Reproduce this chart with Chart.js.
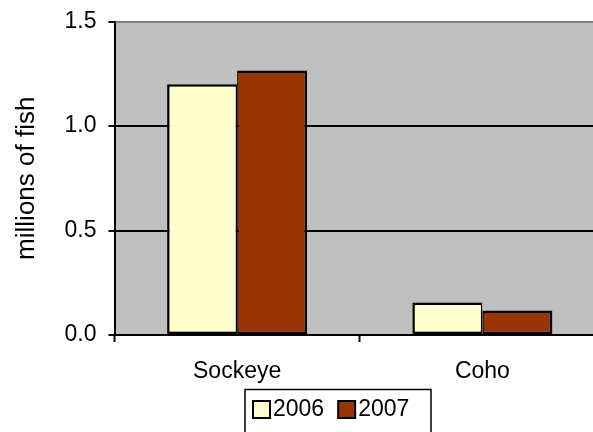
<!DOCTYPE html>
<html>
<head>
<meta charset="utf-8">
<script src="https://cdn.jsdelivr.net/npm/chart.js@4"></script>
<style>
  html, body { margin: 0; padding: 0; background: #fff; overflow: hidden; }
  #wrap { position: relative; width: 615px; height: 445px; }
</style>
</head>
<body>
<div id="wrap"><canvas id="fish-chart"></canvas></div>
<script>
// values, millions of fish
var species = ['Sockeye', 'Coho'];
var years = ['2006', '2007'];
var fish2006 = [1.20, 0.156];
var fish2007 = [1.265, 0.117];
var yTicks = [0, 0.5, 1.0, 1.5];
var yearColors = ['#FFFFCC', '#993300'];

Chart.defaults.font.family = '"Liberation Sans", Arial, sans-serif';
Chart.defaults.font.size = 23;
Chart.defaults.color = '#000';

// gray plot area like the old excel charts
var plotBackground = {
  id: 'plotBackground',
  beforeDraw: function (chart) {
    var a = chart.chartArea, ctx = chart.ctx;
    ctx.save();
    ctx.fillStyle = '#C0C0C0';
    ctx.fillRect(a.left, a.top, a.right - a.left, a.bottom - a.top);
    ctx.restore();
  }
};

// boxed legend with the swatch right next to the text
var boxLegend = {
  id: 'boxLegend',
  afterDraw: function (chart) {
    var ctx = chart.ctx;
    ctx.save();
    ctx.strokeStyle = '#000';
    ctx.lineWidth = 1.5;
    ctx.strokeRect(245, 389.5, 186, 60);
    ctx.font = '23px "Liberation Sans", Arial, sans-serif';
    ctx.textBaseline = 'middle';
    var x = 253;
    chart.data.datasets.forEach(function (ds) {
      ctx.fillStyle = ds.backgroundColor;
      ctx.fillRect(x, 401, 17, 17);
      ctx.lineWidth = 2;
      ctx.strokeRect(x, 401, 17, 17);
      ctx.fillStyle = '#000';
      ctx.fillText(ds.label, x + 20, 410);
      x += 20 + ctx.measureText(ds.label).width + 14;
    });
    ctx.restore();
  }
};

var fishChart = new Chart('fish-chart', {
  type: 'bar',
  data: {
    labels: species,
    datasets: [{
      label: years[0],
      data: fish2006,
      backgroundColor: yearColors[0],
      borderColor: '#000',
      borderWidth: { left: 2.5, top: 2.5, bottom: 2.5, right: 1.5 },
      borderSkipped: false
    }, {
      label: years[1],
      data: fish2007,
      backgroundColor: yearColors[1],
      borderColor: '#000',
      borderWidth: { left: 1.5, top: 2.5, bottom: 2.5, right: 2.5 },
      borderSkipped: false
    }]
  },
  options: {
    responsive: true,
    maintainAspectRatio: false,
    animation: false,
    categoryPercentage: 0.571,
    barPercentage: 1.0,
    layout: { padding: { left: 11, top: 21.5, right: 10, bottom: 0 } },
    plugins: {
      legend: { display: false },
      tooltip: { enabled: false }
    },
    scales: {
      x: {
        grid: {
          drawOnChartArea: false,
          drawTicks: true,
          tickLength: 7,
          tickWidth: 2,
          tickColor: '#000'
        },
        border: { color: '#000', width: 2 },
        ticks: { padding: 16 },
        afterFit: function (s) { s.height = 110; }
      },
      y: {
        min: 0,
        max: 1.5,
        afterBuildTicks: function (s) {
          s.ticks = yTicks.map(function (v) { return { value: v }; });
        },
        ticks: {
          padding: 12,
          callback: function (v) { return Number(v).toFixed(1); }
        },
        grid: {
          color: function (c) { return c.tick && c.tick.value === 1.5 ? '#808080' : '#000'; },
          lineWidth: 2,
          tickLength: 6,
          tickWidth: 2,
          tickColor: '#000'
        },
        border: { color: '#000', width: 2 },
        title: {
          display: true,
          text: 'millions of fish',
          font: { size: 26 },
          padding: { top: 0, bottom: 0 }
        },
        afterFit: function (s) {
          s.width = 103.5;
          s.paddingTop = 0;
          s.paddingBottom = 0;
        }
      }
    }
  },
  plugins: [plotBackground, boxLegend]
});
</script>
</body>
</html>
